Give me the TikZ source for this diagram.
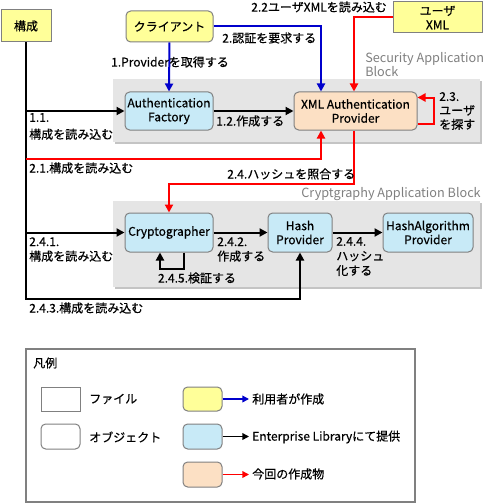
\documentclass[tikz,border=0pt]{standalone}
\usepackage{fontspec}
\setmainfont{Noto Sans CJK JP}[BoldFont={Noto Sans CJK JP}, BoldFeatures={FakeBold=0.5}]
\usetikzlibrary{arrows.meta,calc}
\definecolor{fileyellow}{HTML}{FFFF99}
\definecolor{libblue}{HTML}{C8EAF7}
\definecolor{peach}{HTML}{FCE0C4}
\definecolor{bggray}{HTML}{E5E5E5}
\definecolor{shgray}{HTML}{C4C4C4}
\definecolor{bordergray}{HTML}{808080}
\definecolor{titlegray}{HTML}{7F7F7F}
\definecolor{arrblue}{HTML}{0000CC}
\definecolor{arrred}{HTML}{FF0000}
\tikzset{
  base/.style={draw=bordergray, line width=0.75pt, inner sep=0pt, align=center,
    font=\fontsize{9}{10.5}\selectfont\bfseries},
  filebox/.style={base},
  objbox/.style={base, rounded corners=3.5pt},
  lbl/.style={inner sep=0pt, anchor=west, align=left, font=\fontsize{9}{11}\selectfont\bfseries},
  conn/.style={line width=1.5pt, -{Triangle[length=6pt,width=6pt]}},
  bconn/.style={conn, draw=arrblue},
  rconn/.style={conn, draw=arrred},
  lconn/.style={line width=1.1pt, -{Triangle[length=5pt,width=5pt]}},
}
\begin{document}
\begin{tikzpicture}[x=0.75pt,y=-0.75pt]
\useasboundingbox (0,0) rectangle (483,503);
% block backgrounds
\fill[shgray] (115,81) rectangle (482,144);
\fill[bggray] (113,79) rectangle (480,142);
\fill[shgray] (115,203) rectangle (482,289);
\fill[bggray] (113,201) rectangle (480,287);
\node[lbl, text=titlegray, anchor=north west, font=\fontsize{9.5}{10.5}\selectfont] (sabt) at (365,52) {Security Application\\Block};
\node[lbl, text=titlegray, anchor=east, font=\fontsize{9.5}{10.5}\selectfont] (cabt) at (481,194) {Cryptgraphy Application Block};

% nodes
\node[filebox, fill=fileyellow, minimum width=37.5pt, minimum height=24pt] (kosei) at (26,26) {構成};
\node[objbox, fill=fileyellow, minimum width=65.25pt, minimum height=23.25pt] (client) at (169.5,26.5) {クライアント};
\node[filebox, fill=fileyellow, minimum width=66.75pt, minimum height=23.25pt] (userxml) at (437.5,17.5) {ユーザ\\XML};
\node[objbox, fill=libblue, minimum width=66pt, minimum height=28.5pt] (af) at (169,111) {Authentication\\Factory};
\node[objbox, fill=peach, minimum width=92.25pt, minimum height=28.5pt] (xap) at (355.5,111) {XML Authentication\\Provider};
\node[objbox, fill=libblue, minimum width=66pt, minimum height=29.25pt] (crypt) at (169,232.5) {Cryptographer};
\node[objbox, fill=libblue, minimum width=48pt, minimum height=29.25pt] (hash) at (300,232.5) {Hash\\Provider};
\node[objbox, fill=libblue, minimum width=67.5pt, minimum height=29.25pt] (hap) at (428,232.5) {HashAlgorithm\\Provider};

% junctions
\coordinate (j11) at (kosei.south |- af.west);
\coordinate (j21) at ($(kosei.south)+(0,116)$);
\coordinate (j241) at (kosei.south |- crypt.west);
\coordinate (j243) at ($(kosei.south)+(0,256)$);

% black connectors
\draw[conn] (kosei.south) -- (j243) -| (hash.south);
\draw[conn] (j11) -- (af.west);
\draw[conn] (j241) -- (crypt.west);
\draw[conn] (af.east) -- (xap.west);
\draw[conn] (crypt.east) -- (hash.west);
\draw[conn] (hash.east) -- (hap.west);
\draw[conn] ($(crypt.south)+(15,0)$) -- ++(0,16) -| ($(crypt.south)+(-9,0)$);

% blue connectors
\draw[bconn] (client.south) -- (af.north);
\draw[bconn] (client.east) -| ($(xap.north)+(-34.5,0)$);

% red connectors
\draw[rconn] (j21) -| ($(xap.south)+(-34.5,0)$);
\draw[rconn] (userxml.west) -| ($(xap.north)+(-1.5,0)$);
\draw[rconn] ($(xap.south east)+(0,-7)$) -- ++(16,0) |- ($(xap.north east)+(0,6)$);
\draw[rconn] ($(xap.south)+(-2,0)$) -- ++(0,53) -| (crypt.north);

% labels
\node[lbl, anchor=center] (l1) at (170,62) {1.Providerを取得する};
\node[lbl] (l2) at (222,38) {2.認証を要求する};
\node[lbl] (l22) at (251,7) {2.2ユーザXMLを読み込む};
\node[lbl, font=\fontsize{9}{12.75}\selectfont\bfseries] (l11) at (29,126.5) {1.1.\\構成を読み込む};
\node[lbl] (l12) at (216,121) {1.2.作成する};
\node[lbl, font=\fontsize{9}{10.5}\selectfont\bfseries] (l23) at (439,111) {2.3.\\ユーザ\\を探す};
\node[lbl] (l21) at (29,168) {2.1.構成を読み込む};
\node[lbl] (l24) at (227,174) {2.4.ハッシュを照合する};
\node[lbl] (l241) at (29,249.5) {2.4.1.\\構成を読み込む};
\node[lbl] (l242) at (217,249.5) {2.4.2.\\作成する};
\node[lbl] (l244) at (336,256.5) {2.4.4.\\ハッシュ\\化する};
\node[lbl, anchor=center] (l245) at (197,278) {2.4.5.検証する};
\node[lbl] (l243) at (29,308) {2.4.3.構成を読み込む};

% legend
\node[draw=bordergray, line width=0.9pt, minimum width=291.75pt, minimum height=114.75pt, inner sep=0pt] (legend) at (220.5,425.5) {};
\node[lbl] (lgt) at (33,363) {凡例};
\node[filebox, fill=white, minimum width=29.25pt, minimum height=18pt] (lgfile) at (60.5,399) {};
\node[lbl] (lgfilet) at (89,399) {ファイル};
\node[objbox, fill=white, minimum width=29.25pt, minimum height=18.75pt] (lgobj) at (60.5,436.5) {};
\node[lbl] (lgobjt) at (89,437) {オブジェクト};
\node[objbox, fill=fileyellow, minimum width=29.25pt, minimum height=18pt] (lgy) at (202.5,399) {};
\node[objbox, fill=libblue, minimum width=29.25pt, minimum height=18.75pt] (lgb) at (202.5,436.5) {};
\node[objbox, fill=peach, minimum width=29.25pt, minimum height=18.75pt] (lgp) at (202.5,474.5) {};
\coordinate (lgya) at (249,399);
\coordinate (lgba) at (249,436.5);
\coordinate (lgpa) at (249,474.5);
\draw[lconn, draw=arrblue] (lgy.east) -- (lgya);
\draw[lconn] (lgb.east) -- (lgba);
\draw[lconn, draw=arrred] (lgp.east) -- (lgpa);
\node[lbl] (lgyt) at (252,399) {利用者が作成};
\node[lbl] (lgbt) at (252,437) {Enterprise Libraryにて提供};
\node[lbl] (lgpt) at (252,474) {今回の作成物};
\end{tikzpicture}
\end{document}
